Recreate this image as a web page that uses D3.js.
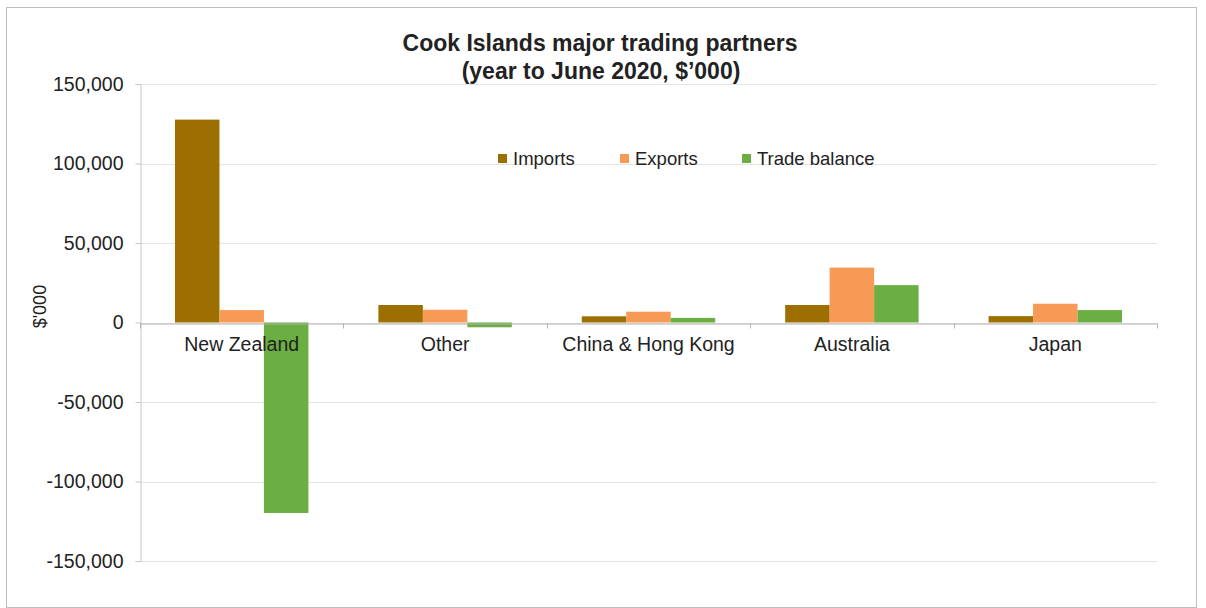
<!DOCTYPE html>
<html>
<head>
<meta charset="utf-8">
<script src="https://cdn.jsdelivr.net/npm/d3@7"></script>
<style>
  html, body { margin: 0; padding: 0; background: #fff; }
  svg { display: block; font-family: "Liberation Sans", Arial, sans-serif; }
</style>
</head>
<body>
<svg id="chart" width="1206" height="608"></svg>
<script>
// Trade partners and values ($'000, year to June 2020)
const partners = ["New Zealand", "Other", "China & Hong Kong", "Australia", "Japan"];
const seriesNames = ["Imports", "Exports", "Trade balance"];
const imports = [127600, 11000, 3900, 11000, 4000];
const exports = [7800, 8000, 6800, 34500, 11800];
const tradeBalance = [-119800, -3000, 2900, 23500, 7800];
const yTicks = [-150000, -100000, -50000, 0, 50000, 100000, 150000];
const colors = ["#9C6F00", "#F79A55", "#6BAF42"];

const seriesValues = [imports, exports, tradeBalance];
const rows = partners.map((p, i) => ({
  partner: p,
  values: seriesNames.map((s, k) => ({ series: s, value: seriesValues[k][i] }))
}));

const svg = d3.select("#chart");
const margin = { left: 140, right: 49, top: 84, bottom: 47 };
const W = 1206, H = 608;
const fmt = d3.format(",");
const tickFormat = d => fmt(d).replace("\u2212", "-");

// outer frame
svg.append("rect")
  .attr("x", 6.5).attr("y", 7.5)
  .attr("width", 1190).attr("height", 600)
  .attr("fill", "#fff").attr("stroke", "#bdbdbd").attr("stroke-width", 1);

const x0 = d3.scaleBand()
  .domain(partners)
  .range([margin.left, W - margin.right])
  .paddingInner(0).paddingOuter(0);

const groupPad = 0.172;
const x1 = d3.scaleBand()
  .domain(seriesNames)
  .range([x0.bandwidth() * groupPad, x0.bandwidth() * (1 - groupPad)])
  .padding(0);

const y = d3.scaleLinear()
  .domain([-150000, 150000])
  .range([H - margin.bottom, margin.top]);

// gridlines
svg.append("g")
  .selectAll("line")
  .data(yTicks)
  .join("line")
  .attr("x1", margin.left).attr("x2", W - margin.right)
  .attr("y1", d => Math.round(y(d)) + 0.5).attr("y2", d => Math.round(y(d)) + 0.5)
  .attr("stroke", "#e4e4e4").attr("stroke-width", 1);

// y axis
const yAxis = d3.axisLeft(y)
  .tickValues(yTicks)
  .tickSize(5)
  .tickPadding(12)
  .tickFormat(tickFormat);
const gy = svg.append("g")
  .attr("transform", `translate(${margin.left + 0.5},0)`)
  .call(yAxis);
gy.select(".domain").attr("stroke", "#c6c6c6");
gy.selectAll(".tick line").attr("stroke", "#c6c6c6");
gy.selectAll(".tick text")
  .attr("fill", "#222")
  .style("font-size", "19.5px")
  .style("font-family", "'Liberation Sans', Arial, sans-serif");

// bars
const groups = svg.append("g")
  .selectAll("g")
  .data(rows)
  .join("g")
  .attr("transform", d => `translate(${x0(d.partner)},0)`);

groups.selectAll("rect")
  .data(d => d.values)
  .join("rect")
  .attr("x", d => x1(d.series))
  .attr("width", x1.bandwidth())
  .attr("y", d => y(Math.max(0, d.value)))
  .attr("height", d => Math.abs(y(d.value) - y(0)))
  .attr("fill", (d, i) => colors[i]);

// category axis on the zero line
const xAxis = d3.axisBottom(x0).tickSize(0).tickPadding(14);
const gx = svg.append("g")
  .attr("transform", `translate(0,${Math.round(y(0)) + 0.5})`)
  .call(xAxis);
gx.select(".domain").attr("stroke", "#b3b3b3");
gx.selectAll(".tick text")
  .attr("fill", "#222")
  .style("font-size", "19.5px")
  .style("font-family", "'Liberation Sans', Arial, sans-serif");

// tick marks at category boundaries
const boundaries = partners.map(p => x0(p)).concat([x0.range()[1]]);
gx.append("g")
  .selectAll("line")
  .data(boundaries)
  .join("line")
  .attr("x1", d => Math.round(d) + 0.5).attr("x2", d => Math.round(d) + 0.5)
  .attr("y1", 0).attr("y2", 5)
  .attr("stroke", "#b3b3b3");

// y axis title
svg.append("text")
  .attr("transform", `translate(46,${y(10000)}) rotate(-90)`)
  .attr("text-anchor", "middle")
  .attr("fill", "#222")
  .style("font-size", "18px")
  .text("$'000");

// title
const title = svg.append("text")
  .attr("text-anchor", "middle")
  .attr("fill", "#222")
  .style("font-size", "23px")
  .style("font-weight", "bold");
title.append("tspan").attr("x", 600).attr("y", 51).text("Cook Islands major trading partners");
title.append("tspan").attr("x", 601).attr("y", 79).text("(year to June 2020, $\u2019000)");

// legend
const legendX = [498, 620, 742];
const legend = svg.append("g")
  .selectAll("g")
  .data(seriesNames)
  .join("g")
  .attr("transform", (d, i) => `translate(${legendX[i]},159)`);
legend.append("rect")
  .attr("x", 0).attr("y", -5)
  .attr("width", 9).attr("height", 9)
  .attr("fill", (d, i) => colors[i]);
legend.append("text")
  .attr("x", 15).attr("y", 6)
  .attr("fill", "#222")
  .style("font-size", "18.5px")
  .text(d => d);
</script>
</body>
</html>
